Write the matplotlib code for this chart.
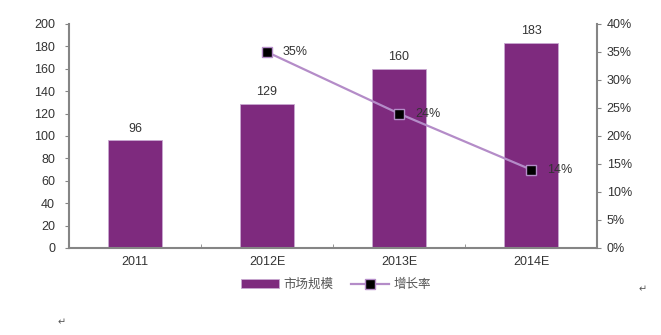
import numpy as np
import matplotlib.pyplot as plt

plt.rcParams['font.family'] = ['Liberation Sans', 'Noto Sans CJK SC', 'DejaVu Sans']

years = ['2011', '2012E', '2013E', '2014E']
market = [96, 129, 160, 183]          # 市场规模
growth_years = ['2012E', '2013E', '2014E']
growth = [35, 24, 14]                 # 增长率 (%)

bar_c = '#7E2A7E'
line_c = '#B48CC8'
spine_c = '#858585'
txt_c = '#333333'

fig = plt.figure(figsize=(6.61, 3.35), dpi=100)
ax = fig.add_axes([69/661, 1 - 248/335, 528/661, 224/335])
x = np.arange(len(years))
bars = ax.bar(x, market, width=0.41, color=bar_c, edgecolor='#C8A8D0', linewidth=0.6, label='市场规模')
for xi, v in zip(x, market):
    ax.text(xi, v + 5, str(v), ha='center', va='bottom', fontsize=9, color=txt_c)

ax.set_xlim(-0.5, len(years) - 0.5)
ax.set_ylim(0, 200)
ax.set_yticks(np.arange(0, 201, 20))
ax.set_xticks(x)
ax.set_xticklabels(years)
ax.set_xticks(np.arange(0.5, len(years) - 1, 1), minor=True)
ax.tick_params(axis='x', which='major', length=0, pad=6, labelsize=9, labelcolor=txt_c)
ax.tick_params(axis='x', which='minor', direction='in', length=3, color=spine_c)
ax.tick_params(axis='y', length=3, color=spine_c, labelsize=9, labelcolor=txt_c, pad=7)

ax2 = ax.twinx()
gx = [years.index(g) for g in growth_years]
ln, = ax2.plot(gx, growth, color=line_c, linewidth=1.6, marker='s', markersize=7.5,
               markerfacecolor='black', markeredgecolor=line_c, markeredgewidth=1, label='增长率')
for xi, v in zip(gx, growth):
    ax2.text(xi + 0.12, v, f'{v}%', ha='left', va='center', fontsize=9, color=txt_c)
ax2.set_ylim(0, 40)
ax2.set_yticks(np.arange(0, 41, 5))
ax2.set_yticklabels([f'{t}%' for t in range(0, 41, 5)])
ax2.tick_params(axis='y', length=3, color=spine_c, labelsize=9, labelcolor=txt_c, pad=4)

for a in (ax, ax2):
    for s in a.spines.values():
        s.set_visible(False)
ax.spines['left'].set_visible(True)
ax.spines['bottom'].set_visible(True)
ax2.spines['right'].set_visible(True)
for s in (ax.spines['left'], ax.spines['bottom'], ax2.spines['right']):
    s.set_color(spine_c)
    s.set_linewidth(1.5)

fig.legend([bars, ln], ['市场规模', '增长率'], loc='center', bbox_to_anchor=(336/661, 1 - 285/335),
           ncol=2, frameon=False, fontsize=9, handlelength=3, columnspacing=1.4, handletextpad=0.4,
           labelcolor='#555555')

fig.text(62/661, 1 - 322/335, '↵', fontsize=7, color='#555555', ha='center', va='center', family='DejaVu Sans')
fig.text(643/661, 1 - 289/335, '↵', fontsize=7, color='#555555', ha='center', va='center', family='DejaVu Sans')

fig.savefig('out.png', dpi=100)
